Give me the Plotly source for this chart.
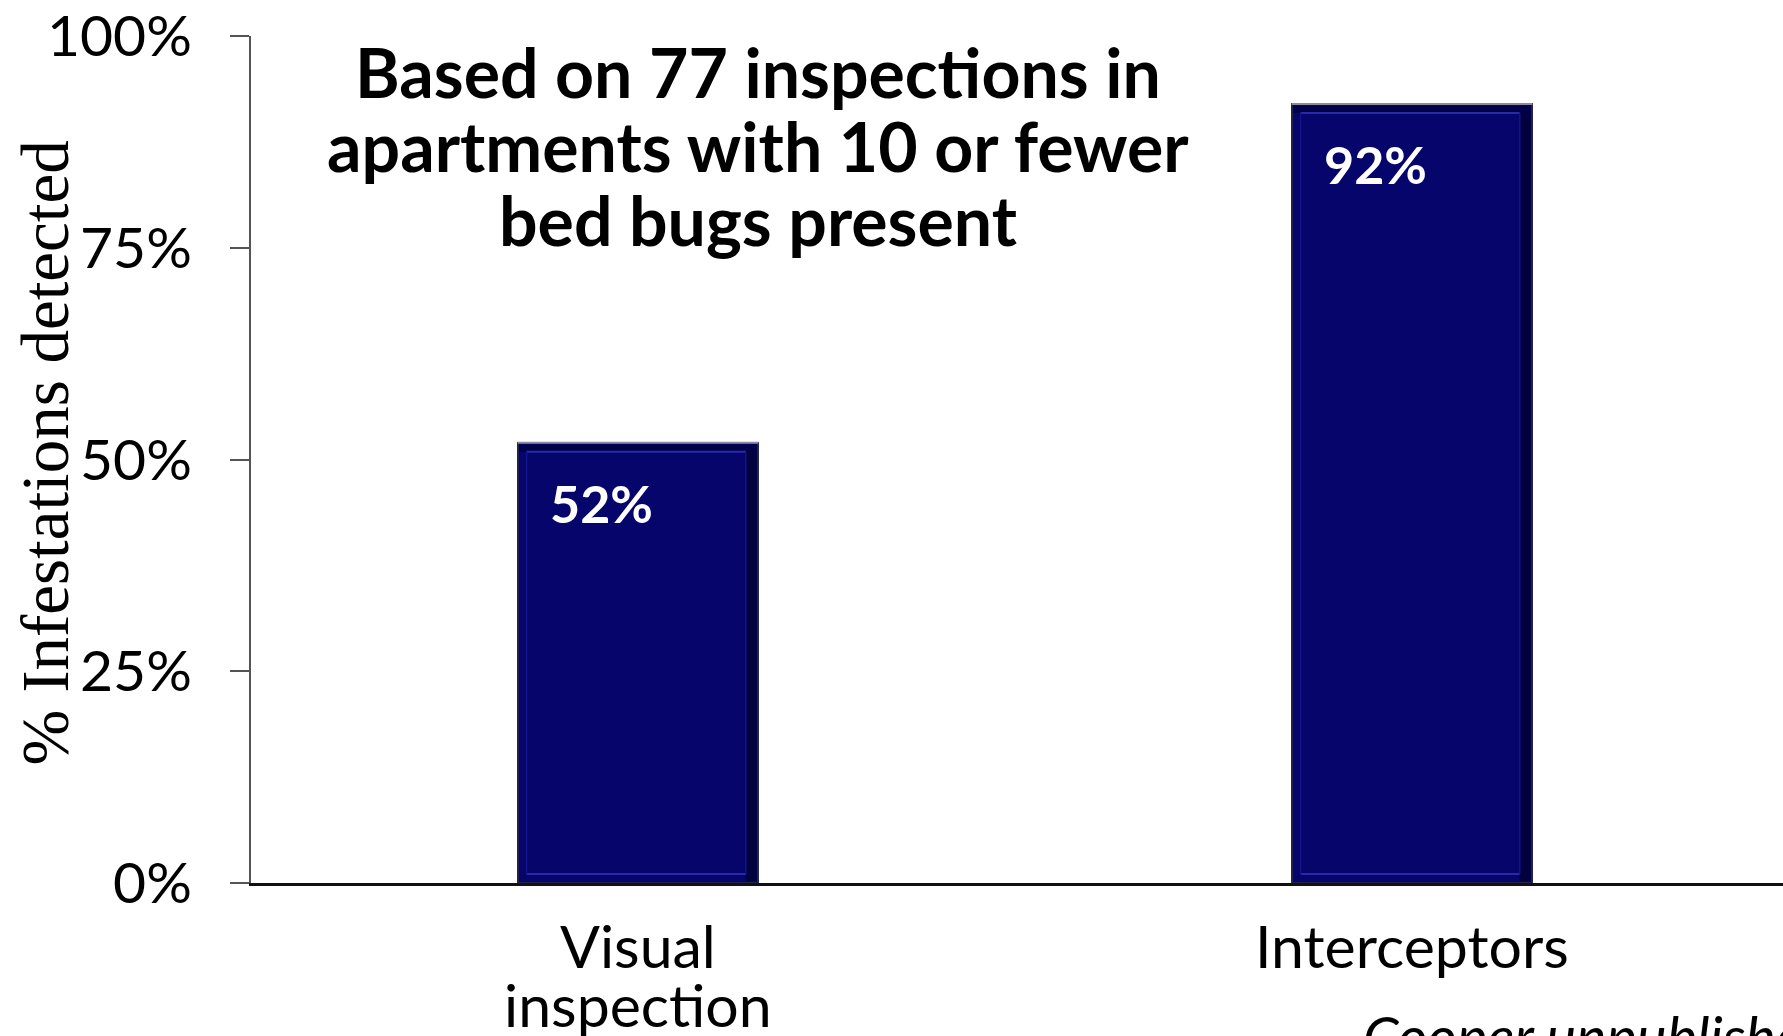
import plotly.graph_objects as go

# Detection rate by inspection method
categories = ["Visual\ninspection", "Interceptors"]
detected = [0.52, 0.92]
y_ticks = [0, 0.25, 0.5, 0.75, 1.0]
y_tick_labels = ["0%", "25%", "50%", "75%", "100%"]

title_lines = ["Based on 77 inspections in", "apartments with 10 or fewer", "bed bugs present"]
y_title = "% Infestations detected"
source_note = "Cooper unpublished"

SANS = "Lato, 'Open Sans', sans-serif"
SERIF = "'Liberation Serif', 'DejaVu Serif', serif"
BAR_FILL = "#05056c"
BAR_W = 0.311

W, H = 1783, 1036
L, T, B = 251, 33, 153
Y0_PX, PLOT_H = 882.7, 849.2


def paper_y(px):
    return (Y0_PX - px) / PLOT_H


def paper_x(px):
    return (px - L) / (W - L)


x_pos = list(range(len(categories)))

fig = go.Figure()
fig.add_trace(go.Bar(
    x=x_pos, y=detected, width=BAR_W,
    marker=dict(color=BAR_FILL, line=dict(color="#23234a", width=2)),
    hoverinfo="skip", showlegend=False,
))

# bevel detailing on each bar
shapes = []
ix, iy = 9 / 774, 9 / 849
for xc, v in zip(x_pos, detected):
    x0, x1 = xc - BAR_W / 2, xc + BAR_W / 2
    # dark right-hand shading
    shapes.append(dict(type="rect", xref="x", yref="y",
                       x0=x1 - 1.4 * ix, x1=x1 - 0.002, y0=0.002, y1=v - 0.002,
                       fillcolor="#01013f", line=dict(width=0), layer="above"))
    # dark band along the top edge
    shapes.append(dict(type="rect", xref="x", yref="y",
                       x0=x0 + 0.002, x1=x1 - 0.002, y0=v - iy, y1=v - 0.002,
                       fillcolor="#00004a", line=dict(width=0), layer="above"))
    # lighter inner rim, top and bottom
    for yy in (iy, v - iy):
        shapes.append(dict(type="line", xref="x", yref="y",
                           x0=x0 + ix, x1=x1 - 1.4 * ix, y0=yy, y1=yy,
                           line=dict(color="#2a2aa8", width=2), layer="above"))
    # faint inner rim on the sides
    for xx in (x0 + ix, x1 - 1.4 * ix):
        shapes.append(dict(type="line", xref="x", yref="y",
                           x0=xx, x1=xx, y0=iy, y1=v - iy,
                           line=dict(color="#14148a", width=1.5), layer="above"))
    # light outline at the top
    shapes.append(dict(type="line", xref="x", yref="y",
                       x0=x0, x1=x1, y0=v, y1=v,
                       line=dict(color="#8a8aa0", width=2), layer="above"))

annotations = []
# value labels inside bars
for xc, v in zip(x_pos, detected):
    annotations.append(dict(
        x=xc, y=v, xref="x", yref="y", text=f"<b>{v * 100:.0f}%</b>",
        showarrow=False, xanchor="center", yanchor="middle",
        xshift=-37, yshift=-60,
        font=dict(family=SANS, size=52, color="white"),
    ))

# category labels, one annotation per text line for tight leading
for xc, cat in zip(x_pos, categories):
    for i, line in enumerate(cat.split("\n")):
        annotations.append(dict(
            x=xc, y=0, xref="x", yref="y", text=line, showarrow=False,
            xanchor="center", yanchor="middle", yshift=-(62 + 59 * i),
            font=dict(family=SANS, size=59, color="black"),
        ))

# headline, one line per annotation
for i, line in enumerate(title_lines):
    annotations.append(dict(
        x=paper_x(758), y=paper_y(69 + 74 * i), xref="paper", yref="paper",
        text=f"<b>{line}</b>", showarrow=False,
        xanchor="center", yanchor="middle",
        font=dict(family=SANS, size=68, color="black"),
    ))

# y axis title
annotations.append(dict(
    x=paper_x(45), y=paper_y(452), xref="paper", yref="paper",
    text=y_title, textangle=-90, showarrow=False,
    xanchor="center", yanchor="middle",
    font=dict(family=SERIF, size=67, color="black"),
))

# source note
annotations.append(dict(
    x=paper_x(1361), y=paper_y(1035), xref="paper", yref="paper",
    text=f"<i>{source_note}</i>", showarrow=False,
    xanchor="left", yanchor="middle",
    font=dict(family=SANS, size=57, color="black"),
))

fig.update_layout(
    width=W, height=H,
    margin=dict(l=L, r=0, t=T, b=B, pad=0),
    paper_bgcolor="white", plot_bgcolor="white",
    shapes=shapes, annotations=annotations,
    xaxis=dict(range=[-0.5, -0.5 + (W - L) / 774], showticklabels=False,
               ticks="", showgrid=False, zeroline=False,
               showline=True, linecolor="#111111", linewidth=2.5),
    yaxis=dict(range=[0, 1.0004], tickvals=y_ticks, ticktext=y_tick_labels,
               ticks="outside", ticklen=19, tickwidth=1.5, tickcolor="#555555",
               ticklabelstandoff=27, ticklabeloverflow="allow",
               showgrid=False, zeroline=False,
               showline=True, linecolor="#555555", linewidth=1.5,
               tickfont=dict(family=SANS, size=57, color="black")),
    bargap=0,
)

fig.write_html("out.html")
